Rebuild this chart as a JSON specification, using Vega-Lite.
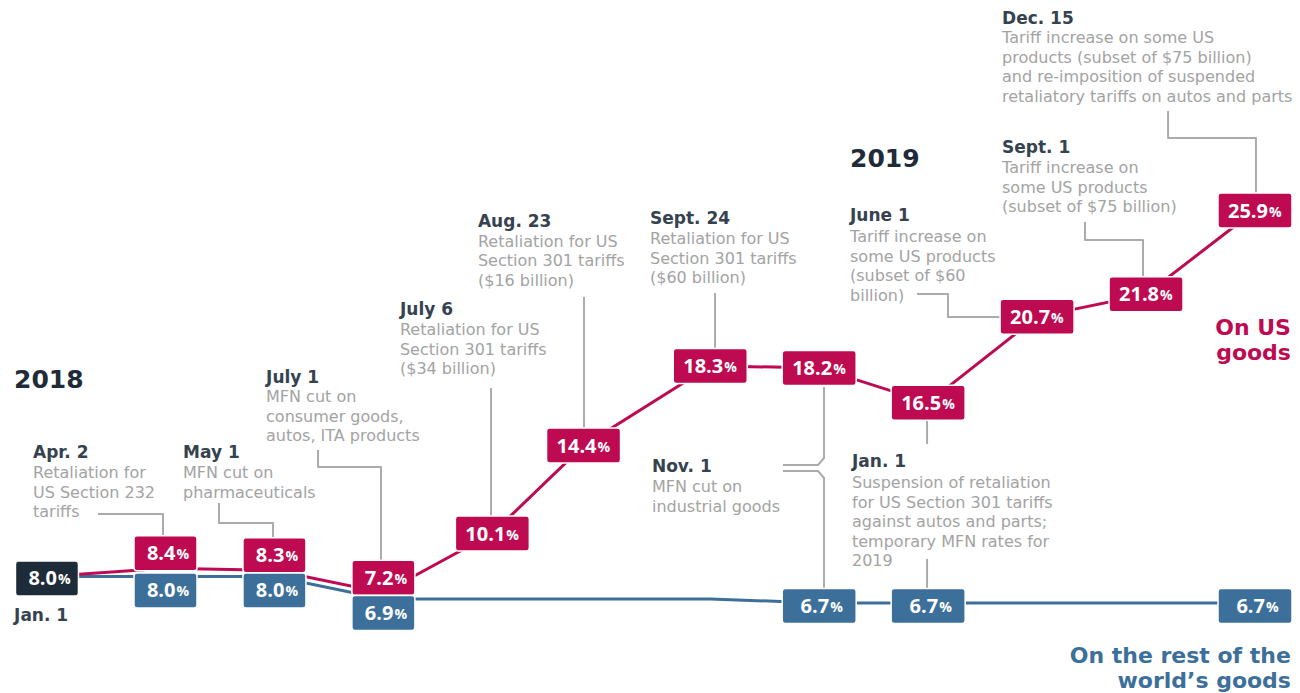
{
  "$schema": "https://vega.github.io/schema/vega-lite/v6.json",
  "width": 1300,
  "height": 693,
  "padding": 0,
  "autosize": {"type": "fit", "contains": "padding"},
  "background": "white",
  "config": {"view": {"stroke": null}, "font": "DejaVu Sans"},
  "datasets": {
    "pts": [
      {"pos": -0.088, "series": "us", "value": 8.0, "boxed": false},
      {"pos": 1, "series": "us", "value": 8.4, "boxed": true},
      {"pos": 2, "series": "us", "value": 8.3, "boxed": true},
      {"pos": 3, "series": "us", "value": 7.2, "boxed": true},
      {"pos": 4, "series": "us", "value": 10.1, "boxed": true},
      {"pos": 4.837, "series": "us", "value": 14.4, "boxed": true},
      {"pos": 6, "series": "us", "value": 18.3, "boxed": true},
      {"pos": 7, "series": "us", "value": 18.2, "boxed": true},
      {"pos": 8, "series": "us", "value": 16.5, "boxed": true},
      {"pos": 9, "series": "us", "value": 20.7, "boxed": true},
      {"pos": 10, "series": "us", "value": 21.8, "boxed": true},
      {"pos": 11, "series": "us", "value": 25.9, "boxed": true},
      {"pos": -0.088, "series": "row", "value": 8.0, "boxed": false},
      {"pos": 1, "series": "row", "value": 8.0, "boxed": true},
      {"pos": 2, "series": "row", "value": 8.0, "boxed": true},
      {"pos": 3, "series": "row", "value": 6.9, "boxed": true},
      {"pos": 4, "series": "row", "value": 6.9, "boxed": false},
      {"pos": 4.837, "series": "row", "value": 6.9, "boxed": false},
      {"pos": 6, "series": "row", "value": 6.9, "boxed": false},
      {"pos": 7, "series": "row", "value": 6.7, "boxed": true},
      {"pos": 8, "series": "row", "value": 6.7, "boxed": true},
      {"pos": 9, "series": "row", "value": 6.7, "boxed": false},
      {"pos": 10, "series": "row", "value": 6.7, "boxed": false},
      {"pos": 11, "series": "row", "value": 6.7, "boxed": true},
      {"pos": -0.088, "series": "start", "value": 8.0, "boxed": true}
    ],
    "links": [
      {"id": "apr2", "ord": 1, "pos": 0.380, "value": 11.054},
      {"id": "apr2", "ord": 2, "pos": 0.977, "value": 11.054},
      {"id": "apr2", "ord": 3, "pos": 0.977, "value": 9.929},
      {"id": "may1", "ord": 1, "pos": 1.491, "value": 11.592},
      {"id": "may1", "ord": 2, "pos": 1.491, "value": 10.614},
      {"id": "may1", "ord": 3, "pos": 1.987, "value": 10.614},
      {"id": "may1", "ord": 4, "pos": 1.987, "value": 9.929},
      {"id": "jul1", "ord": 1, "pos": 2.400, "value": 14.185},
      {"id": "jul1", "ord": 2, "pos": 2.400, "value": 13.353},
      {"id": "jul1", "ord": 3, "pos": 2.978, "value": 13.353},
      {"id": "jul1", "ord": 4, "pos": 2.978, "value": 8.804},
      {"id": "jul6", "ord": 1, "pos": 3.988, "value": 17.218},
      {"id": "jul6", "ord": 2, "pos": 3.988, "value": 10.907},
      {"id": "aug23", "ord": 1, "pos": 4.841, "value": 21.671},
      {"id": "aug23", "ord": 2, "pos": 4.841, "value": 15.066},
      {"id": "sep24", "ord": 1, "pos": 6.044, "value": 21.866},
      {"id": "sep24", "ord": 2, "pos": 6.044, "value": 19.126},
      {"id": "nov1a", "ord": 1, "pos": 7.044, "value": 17.267},
      {"id": "nov1a", "ord": 2, "pos": 7.044, "value": 13.794},
      {"id": "nov1a", "ord": 3, "pos": 6.989, "value": 13.451},
      {"id": "nov1a", "ord": 4, "pos": 6.668, "value": 13.451},
      {"id": "nov1b", "ord": 1, "pos": 6.668, "value": 13.158},
      {"id": "nov1b", "ord": 2, "pos": 6.989, "value": 13.158},
      {"id": "nov1b", "ord": 3, "pos": 7.044, "value": 12.815},
      {"id": "nov1b", "ord": 4, "pos": 7.044, "value": 7.385},
      {"id": "jan1a", "ord": 1, "pos": 7.990, "value": 15.653},
      {"id": "jan1a", "ord": 2, "pos": 7.990, "value": 14.479},
      {"id": "jan1b", "ord": 1, "pos": 7.990, "value": 8.852},
      {"id": "jan1b", "ord": 2, "pos": 7.990, "value": 7.434},
      {"id": "jun1", "ord": 1, "pos": 7.897, "value": 21.817},
      {"id": "jun1", "ord": 2, "pos": 8.182, "value": 21.817},
      {"id": "jun1", "ord": 3, "pos": 8.182, "value": 20.692},
      {"id": "jun1", "ord": 4, "pos": 8.687, "value": 20.692},
      {"id": "sep1", "ord": 1, "pos": 9.440, "value": 25.340},
      {"id": "sep1", "ord": 2, "pos": 9.440, "value": 24.459},
      {"id": "sep1", "ord": 3, "pos": 9.972, "value": 24.459},
      {"id": "sep1", "ord": 4, "pos": 9.972, "value": 22.698},
      {"id": "dec15", "ord": 1, "pos": 10.202, "value": 30.770},
      {"id": "dec15", "ord": 2, "pos": 10.202, "value": 29.450},
      {"id": "dec15", "ord": 3, "pos": 11.009, "value": 29.450},
      {"id": "dec15", "ord": 4, "pos": 11.009, "value": 26.759}
    ],
    "notes": [
      {"kind": "year", "pos": -0.390, "value": 17.218, "text": "2018"},
      {"kind": "year", "pos": 7.283, "value": 28.031, "text": "2019"},
      {"kind": "date", "pos": -0.390, "value": 5.819, "text": "Jan. 1"},
      {"kind": "date", "pos": -0.216, "value": 13.794, "text": "Apr. 2"},
      {"kind": "desc", "pos": -0.216, "value": 12.815, "text": "Retaliation for\nUS Section 232\ntariffs"},
      {"kind": "date", "pos": 1.161, "value": 13.794, "text": "May 1"},
      {"kind": "desc", "pos": 1.161, "value": 12.815, "text": "MFN cut on\npharmaceuticals"},
      {"kind": "date", "pos": 1.923, "value": 17.463, "text": "July 1"},
      {"kind": "desc", "pos": 1.923, "value": 16.533, "text": "MFN cut on\nconsumer goods,\nautos, ITA products"},
      {"kind": "date", "pos": 3.152, "value": 20.790, "text": "July 6"},
      {"kind": "desc", "pos": 3.152, "value": 19.811, "text": "Retaliation for US\nSection 301 tariffs\n($34 billion)"},
      {"kind": "date", "pos": 3.868, "value": 25.095, "text": "Aug. 23"},
      {"kind": "desc", "pos": 3.868, "value": 24.117, "text": "Retaliation for US\nSection 301 tariffs\n($16 billion)"},
      {"kind": "date", "pos": 5.447, "value": 25.242, "text": "Sept. 24"},
      {"kind": "desc", "pos": 5.447, "value": 24.263, "text": "Retaliation for US\nSection 301 tariffs\n($60 billion)"},
      {"kind": "date", "pos": 5.465, "value": 13.109, "text": "Nov. 1"},
      {"kind": "desc", "pos": 5.465, "value": 12.130, "text": "MFN cut on\nindustrial goods"},
      {"kind": "date", "pos": 7.301, "value": 13.353, "text": "Jan. 1"},
      {"kind": "desc", "pos": 7.301, "value": 12.326, "text": "Suspension of retaliation\nfor US Section 301 tariffs\nagainst autos and parts;\ntemporary MFN rates for\n2019"},
      {"kind": "date", "pos": 7.283, "value": 25.389, "text": "June 1"},
      {"kind": "desc", "pos": 7.283, "value": 24.361, "text": "Tariff increase on\nsome US products\n(subset of $60\nbillion)"},
      {"kind": "date", "pos": 8.678, "value": 28.716, "text": "Sept. 1"},
      {"kind": "desc", "pos": 8.678, "value": 27.737, "text": "Tariff increase on\nsome US products\n(subset of $75 billion)"},
      {"kind": "date", "pos": 8.678, "value": 35.027, "text": "Dec. 15"},
      {"kind": "desc", "pos": 8.678, "value": 34.097, "text": "Tariff increase on some US\nproducts (subset of $75 billion)\nand re-imposition of suspended\nretaliatory tariffs on autos and parts"},
      {"kind": "us", "pos": 11.330, "value": 19.811, "text": "On US\ngoods"},
      {"kind": "row", "pos": 11.330, "value": 3.764, "text": "On the rest of the\nworld’s goods"}
    ]
  },
  "encoding": {
    "x": {"field": "pos", "type": "quantitative", "scale": {"domain": [-0.519, 11.413], "nice": false, "zero": false}, "axis": null},
    "y": {"field": "value", "type": "quantitative", "scale": {"domain": [2.297, 36.201], "nice": false, "zero": false}, "axis": null}
  },
  "layer": [
    {
      "data": {"name": "pts"},
      "transform": [{"filter": "datum.series == 'row'"}],
      "mark": {"type": "line", "color": "#3d6f9b", "strokeWidth": 3},
      "encoding": {"order": {"field": "pos", "type": "quantitative"}}
    },
    {
      "data": {"name": "pts"},
      "transform": [{"filter": "datum.series == 'us'"}],
      "mark": {"type": "line", "color": "#be0a50", "strokeWidth": 3},
      "encoding": {"order": {"field": "pos", "type": "quantitative"}}
    },
    {
      "data": {"name": "links"},
      "mark": {"type": "line", "color": "#ababab", "strokeWidth": 2, "strokeJoin": "round"},
      "encoding": {"detail": {"field": "id", "type": "nominal"}, "order": {"field": "ord", "type": "quantitative"}}
    },
    {
      "data": {"name": "pts"},
      "transform": [{"filter": "datum.boxed"}],
      "mark": {
        "type": "rect",
        "width": {"expr": "datum.value >= 10 || datum.pos > 6.5 ? 74 : 63"},
        "height": 35,
        "cornerRadius": 3,
        "stroke": "white",
        "strokeWidth": 1.5,
        "yOffset": {"expr": "datum.series == 'us' ? (datum.pos < 3.5 ? -15 : 0) : datum.series == 'row' ? (datum.pos < 3.5 ? 14 : 3) : 2"}
      },
      "encoding": {
        "color": {"field": "series", "type": "nominal", "scale": {"domain": ["us", "row", "start"], "range": ["#be0a50", "#3d6f9b", "#1e2b38"]}, "legend": null}
      }
    },
    {
      "data": {"name": "pts"},
      "transform": [{"filter": "datum.boxed"}],
      "mark": {
        "type": "text",
        "align": "right",
        "baseline": "middle",
        "font": "Open Sans",
        "fontSize": 20,
        "fontWeight": "bold",
        "color": "white",
        "dx": {"expr": "datum.value >= 10 ? 13 : 10"},
        "yOffset": {"expr": "1 + (datum.series == 'us' ? (datum.pos < 3.5 ? -15 : 0) : datum.series == 'row' ? (datum.pos < 3.5 ? 14 : 3) : 2)"}
      },
      "encoding": {"text": {"field": "value", "type": "quantitative", "format": ".1f"}}
    },
    {
      "data": {"name": "pts"},
      "transform": [{"filter": "datum.boxed"}],
      "mark": {
        "type": "text",
        "align": "left",
        "baseline": "middle",
        "font": "Open Sans",
        "fontSize": 14,
        "fontWeight": "bold",
        "color": "white",
        "dx": {"expr": "datum.value >= 10 ? 14 : 11"},
        "yOffset": {"expr": "2 + (datum.series == 'us' ? (datum.pos < 3.5 ? -15 : 0) : datum.series == 'row' ? (datum.pos < 3.5 ? 14 : 3) : 2)"}
      },
      "encoding": {"text": {"value": "%"}}
    },
    {
      "data": {"name": "notes"},
      "transform": [{"filter": "datum.kind == 'year'"}],
      "mark": {"type": "text", "align": "left", "baseline": "alphabetic", "fontSize": 25, "fontWeight": "bold", "color": "#1e2b38"},
      "encoding": {"text": {"field": "text", "type": "nominal"}}
    },
    {
      "data": {"name": "notes"},
      "transform": [{"filter": "datum.kind == 'date'"}],
      "mark": {"type": "text", "align": "left", "baseline": "alphabetic", "fontSize": 17, "fontWeight": "bold", "color": "#35424f"},
      "encoding": {"text": {"field": "text", "type": "nominal"}}
    },
    {
      "data": {"name": "notes"},
      "transform": [{"filter": "datum.kind == 'desc'"}],
      "mark": {"type": "text", "align": "left", "baseline": "alphabetic", "fontSize": 16, "color": "#a3a3a3", "lineBreak": "\n", "lineHeight": 19.5},
      "encoding": {"text": {"field": "text", "type": "nominal"}}
    },
    {
      "data": {"name": "notes"},
      "transform": [{"filter": "datum.kind == 'us'"}],
      "mark": {"type": "text", "align": "right", "baseline": "alphabetic", "fontSize": 22, "fontWeight": "bold", "color": "#be0a50", "lineBreak": "\n", "lineHeight": 25},
      "encoding": {"text": {"field": "text", "type": "nominal"}}
    },
    {
      "data": {"name": "notes"},
      "transform": [{"filter": "datum.kind == 'row'"}],
      "mark": {"type": "text", "align": "right", "baseline": "alphabetic", "fontSize": 22, "fontWeight": "bold", "color": "#3d6f9b", "lineBreak": "\n", "lineHeight": 25},
      "encoding": {"text": {"field": "text", "type": "nominal"}}
    }
  ]
}
